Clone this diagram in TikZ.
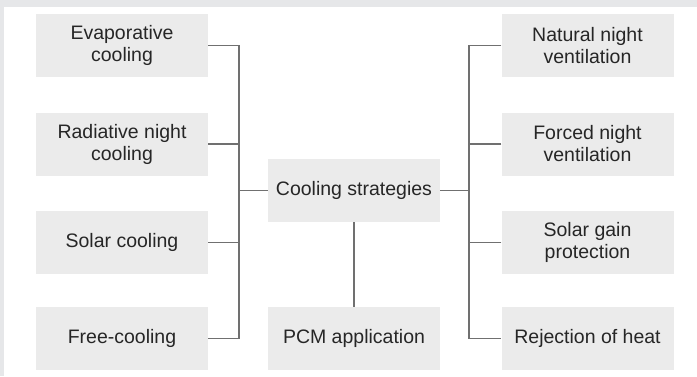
\documentclass[tikz,border=0pt]{standalone}
\usepackage{fontspec}
\setmainfont{Liberation Sans}
\usetikzlibrary{positioning}
\definecolor{framegray}{RGB}{230,231,233}
\definecolor{boxgray}{RGB}{235,235,235}
\definecolor{linegray}{RGB}{112,112,112}
\definecolor{textgray}{RGB}{38,38,38}

\begin{document}
\begin{tikzpicture}[x=1pt,y=-1pt,
strategy/.style={fill=boxgray,text=textgray,minimum width=172pt,minimum height=63pt,
inner sep=0pt,align=center,font=\fontsize{19.5}{22}\selectfont},
link/.style={draw=linegray,line width=1.1pt}]
% Let us start with the frame:
\fill [framegray] (0,0) rectangle (697,376);
\fill [white] (4,7) rectangle (697,376);
\useasboundingbox (0,0) rectangle (697,376);
% the strategies on both sides:
\foreach \strategy/\y/\lefttext/\righttext in
{1/45.5/Evaporative\\cooling/Natural night\\ventilation,
2/144/Radiative night\\cooling/Forced night\\ventilation,
3/242.5/Solar cooling/Solar gain\\protection,
4/338.5/Free-cooling/Rejection of heat}
{
\node [strategy] (left strategy \strategy) at (122,\y) {\lefttext};
\node [strategy] (right strategy \strategy) at (587.5,\y) {\righttext};
}
\node [strategy] (cooling) at (354,190.5) {Cooling strategies};
\node [strategy] (pcm) at (354,338.5) {PCM application};
\coordinate (left bus) at (239,0);
\coordinate (right bus) at (469,0);
\draw [link] (left strategy 1.east) -- (left strategy 1.east -| left bus)
-- (left strategy 4.east -| left bus) -- (left strategy 4.east);
\draw [link] (right strategy 1.west) -- (right strategy 1.west -| right bus)
-- (right strategy 4.west -| right bus) -- (right strategy 4.west);
\foreach \strategy in {2,3}
{
\draw [link] (left strategy \strategy.east) -- (left strategy \strategy.east -| left bus);
\draw [link] (right strategy \strategy.west) -- (right strategy \strategy.west -| right bus);
}
\draw [link] (cooling.west) -- (cooling.west -| left bus);
\draw [link] (cooling.east) -- (cooling.east -| right bus);
\draw [link] (cooling.south) -- (pcm.north);
\end{tikzpicture}
\end{document}
